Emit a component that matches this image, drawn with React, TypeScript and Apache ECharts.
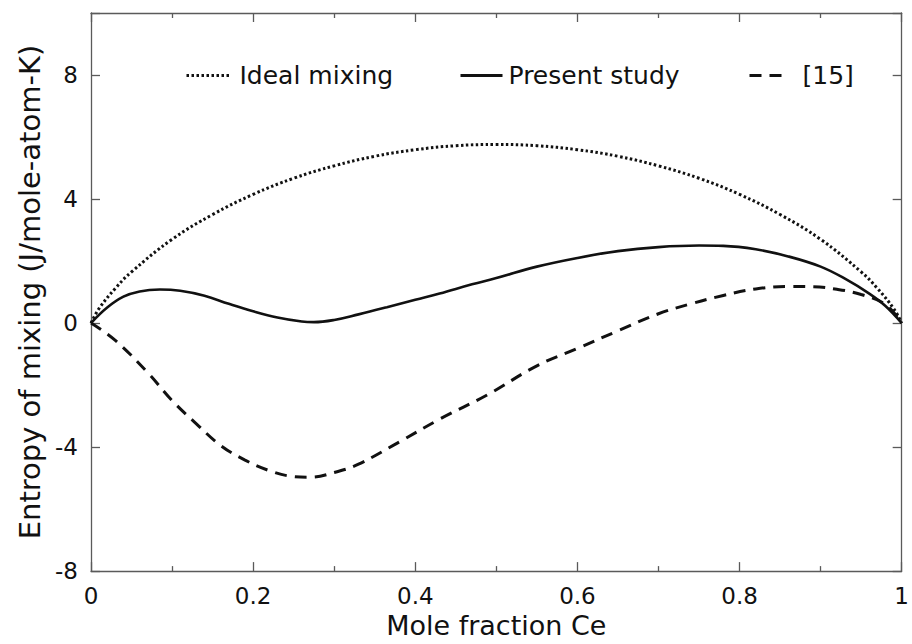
import React, { useEffect, useRef } from "react";
import * as echarts from "echarts";

const idealX = [0, 0.01, 0.03, 0.05, 0.1, 0.15, 0.2, 0.25, 0.3, 0.35, 0.4, 0.45, 0.5, 0.55, 0.6, 0.65, 0.7, 0.75, 0.8, 0.85, 0.9, 0.95, 0.97, 0.99, 1];
const idealY = [0, 0.47, 1.12, 1.65, 2.7, 3.5, 4.15, 4.67, 5.07, 5.38, 5.59, 5.72, 5.76, 5.72, 5.59, 5.38, 5.07, 4.67, 4.15, 3.5, 2.7, 1.65, 1.12, 0.47, 0];

const presentX = [0, 0.02, 0.04, 0.06, 0.085, 0.11, 0.14, 0.17, 0.2, 0.23, 0.26, 0.275, 0.3, 0.33, 0.365, 0.4, 0.43, 0.47, 0.5, 0.55, 0.6, 0.65, 0.7, 0.75, 0.78, 0.82, 0.86, 0.9, 0.93, 0.96, 0.98, 1];
const presentY = [0, 0.5, 0.85, 1.02, 1.08, 1.04, 0.88, 0.62, 0.38, 0.18, 0.05, 0.03, 0.1, 0.28, 0.51, 0.75, 0.95, 1.25, 1.45, 1.82, 2.1, 2.32, 2.45, 2.5, 2.49, 2.38, 2.15, 1.82, 1.43, 0.95, 0.55, 0];

const refX = [0, 0.03, 0.07, 0.1, 0.13, 0.16, 0.19, 0.22, 0.25, 0.27, 0.3, 0.33, 0.38, 0.43, 0.49, 0.55, 0.6, 0.65, 0.7, 0.74, 0.78, 0.82, 0.86, 0.89, 0.92, 0.95, 0.98, 1];
const refY = [0, -0.56, -1.6, -2.5, -3.25, -3.95, -4.42, -4.76, -4.95, -4.97, -4.82, -4.55, -3.84, -3.1, -2.3, -1.38, -0.82, -0.25, 0.3, 0.62, 0.89, 1.1, 1.18, 1.17, 1.09, 0.92, 0.6, 0];

const seriesNames = ["Ideal mixing", "Present study", "[15]"];
const xTicks = { min: 0, max: 1, interval: 0.2 };
const yTicks = { min: -8, max: 10, interval: 4 };
const xTitle = "Mole fraction Ce";
const yTitle = "Entropy of mixing (J/mole-atom-K)";

const FONT = "DejaVu Sans";
const AXIS_COLOR = "#5a5a5a";

function pairs(xs: number[], ys: number[]) {
  return xs.map((x, i) => [x, ys[i]]);
}

export default function App() {
  const ref = useRef<HTMLDivElement>(null);
  useEffect(() => {
    if (!ref.current) return;
    const chart = echarts.init(ref.current, undefined, { renderer: "svg" });
    const axisCommon = {
      axisLine: { show: true, onZero: false, lineStyle: { color: AXIS_COLOR, width: 1.3 } },
      splitLine: { show: false },
    };
    const legendCommon = {
      orient: "horizontal",
      top: 63,
      padding: 0,
      itemHeight: 12,
      textStyle: { fontFamily: FONT, fontSize: 25, color: "#111" },
      lineStyle: { width: 3 },
      itemStyle: { opacity: 0 },
      selectedMode: false,
    };
    chart.setOption({
      animation: false,
      backgroundColor: "#ffffff",
      grid: { left: 91, right: 1, top: 13, bottom: 67, containLabel: false },
      legend: [
        { ...legendCommon, left: 185, itemWidth: 43, data: [seriesNames[0]], textStyle: { ...legendCommon.textStyle, padding: [0, 0, 0, 5] } },
        { ...legendCommon, left: 459, itemWidth: 42, data: [seriesNames[1]], textStyle: { ...legendCommon.textStyle, padding: [0, 0, 0, 1] } },
        { ...legendCommon, left: 748, itemWidth: 36, data: [seriesNames[2]], textStyle: { ...legendCommon.textStyle, padding: [0, 0, 0, 12] } },
      ],
      xAxis: [
        {
          type: "value",
          position: "bottom",
          ...xTicks,
          ...axisCommon,
          axisTick: { show: true, inside: true, length: 9, lineStyle: { color: AXIS_COLOR, width: 1.3 } },
          minorTick: { show: true, splitNumber: 2, length: 5, lineStyle: { color: AXIS_COLOR, width: 1.3 } },
          axisLabel: { fontFamily: FONT, fontSize: 23, color: "#111", margin: 13, formatter: (v: number) => String(v) },
          name: xTitle,
          nameLocation: "middle",
          nameGap: 37,
          nameTextStyle: { fontFamily: FONT, fontSize: 27, color: "#111" },
        },
        {
          type: "value",
          position: "top",
          ...xTicks,
          ...axisCommon,
          axisTick: { show: true, inside: true, length: 9, lineStyle: { color: AXIS_COLOR, width: 1.3 } },
          minorTick: { show: true, splitNumber: 2, length: 5, lineStyle: { color: AXIS_COLOR, width: 1.3 } },
          axisLabel: { show: false },
        },
      ],
      yAxis: [
        {
          type: "value",
          position: "left",
          ...yTicks,
          ...axisCommon,
          axisTick: { show: true, inside: true, length: 9, lineStyle: { color: AXIS_COLOR, width: 1.3 } },
          axisLabel: {
            fontFamily: FONT,
            fontSize: 23,
            color: "#111",
            margin: 13,
            formatter: (v: number) => (v === 10 ? "" : String(v)),
          },
          name: yTitle,
          nameLocation: "middle",
          nameGap: 44,
          nameRotate: 90,
          nameTextStyle: { fontFamily: FONT, fontSize: 29, color: "#111" },
        },
        {
          type: "value",
          position: "right",
          ...yTicks,
          ...axisCommon,
          axisTick: { show: true, inside: true, length: 9, lineStyle: { color: AXIS_COLOR, width: 1.3 } },
          axisLabel: { show: false },
        },
      ],
      series: [
        {
          name: seriesNames[0],
          type: "line",
          xAxisIndex: 0,
          yAxisIndex: 0,
          data: pairs(idealX, idealY),
          symbol: "none",
          smooth: 0.4,
          lineStyle: { color: "#111", width: 3, type: [2.5, 2.5] },
          itemStyle: { color: "#111" },
          z: 3,
        },
        {
          name: seriesNames[1],
          type: "line",
          xAxisIndex: 0,
          yAxisIndex: 0,
          data: pairs(presentX, presentY),
          symbol: "none",
          smooth: 0.4,
          lineStyle: { color: "#111", width: 2.6, type: "solid" },
          itemStyle: { color: "#111" },
          z: 3,
        },
        {
          name: seriesNames[2],
          type: "line",
          xAxisIndex: 0,
          yAxisIndex: 0,
          data: pairs(refX, refY),
          symbol: "none",
          smooth: 0.4,
          lineStyle: { color: "#111", width: 3, type: [12, 8] },
          itemStyle: { color: "#111" },
          z: 3,
        },
      ],
    });
    return () => chart.dispose();
  }, []);
  return <div ref={ref} style={{ position: "fixed", left: 0, top: 0, width: 912, height: 644 }} />;
}
